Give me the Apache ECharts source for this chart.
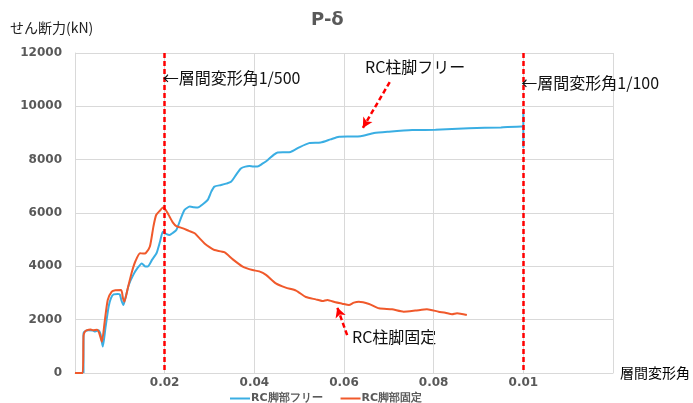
<!DOCTYPE html>
<html>
<head>
<meta charset="utf-8">
<script src="https://cdn.jsdelivr.net/npm/echarts@6/dist/echarts.min.js"></script>
<style>html,body{margin:0;padding:0;background:#fff;}#c{width:693px;height:403px;}</style>
</head>
<body>
<div id="c"></div>
<script>
// ---- data ----
const freeDrift = [0.0019,0.0019,0.0024,0.003,0.004,0.0045,0.0052,0.0057,0.0062,0.0068,0.0075,0.008,0.0086,0.0095,0.01,0.0104,0.0108,0.0113,0.012,0.013,0.014,0.0149,0.0156,0.0162,0.0172,0.0182,0.019,0.0196,0.0203,0.0211,0.0218,0.0226,0.0235,0.0244,0.0256,0.0265,0.0274,0.0285,0.0296,0.0304,0.0311,0.0326,0.0337,0.0348,0.036,0.037,0.038,0.0389,0.0398,0.0407,0.0418,0.043,0.0443,0.0452,0.0468,0.0481,0.05,0.0522,0.0548,0.057,0.0589,0.0613,0.0637,0.0667,0.07,0.0752,0.0804,0.0878,0.095,0.0996,0.1,0.1,0.1];
const freeShear = [0,1500,1580,1600,1590,1560,1600,1450,990,1700,2490,2800,2950,2960,2940,2700,2550,2850,3300,3680,3950,4110,4000,3990,4250,4500,4950,5300,5220,5175,5250,5360,5750,6110,6240,6220,6210,6330,6490,6800,6990,7050,7100,7170,7450,7670,7740,7760,7740,7740,7850,7990,8180,8270,8280,8290,8460,8620,8640,8760,8860,8870,8880,9000,9050,9110,9120,9175,9210,9240,9240,9800,8450];
const fixedDrift = [0,0.0017,0.0019,0.0022,0.0027,0.0035,0.004,0.0049,0.0054,0.006,0.0066,0.0073,0.0082,0.009,0.0103,0.0107,0.011,0.0118,0.0127,0.0135,0.0145,0.0152,0.0158,0.0167,0.0175,0.0181,0.019,0.0196,0.0203,0.0211,0.0218,0.0226,0.0241,0.0254,0.0267,0.0278,0.0289,0.03,0.0311,0.0333,0.0352,0.0374,0.0396,0.0411,0.0426,0.0448,0.047,0.0493,0.0515,0.0537,0.0552,0.0563,0.0581,0.0596,0.0611,0.0622,0.0633,0.0656,0.0678,0.0707,0.0733,0.0759,0.0785,0.0811,0.0826,0.0841,0.0852,0.0874];
const fixedShear = [0,0,1400,1550,1610,1630,1600,1620,1500,1175,1900,2740,3050,3100,3110,2800,2675,3200,3800,4200,4490,4480,4500,4740,5500,5925,6100,6210,6100,5860,5650,5510,5425,5330,5240,5050,4860,4720,4610,4530,4260,3990,3860,3810,3680,3360,3200,3090,2850,2760,2700,2740,2650,2600,2550,2640,2675,2590,2425,2390,2300,2340,2390,2300,2260,2200,2240,2175];
const xTickLabels = ['', '0.02', '0.04', '0.06', '0.08', '0.01', ''];
const seriesNames = ['RC脚部フリー', 'RC脚部固定'];
const limitDrifts = [0.02, 0.1];
const limitTexts = ['←層間変形角1/500', '←層間変形角1/100'];
const freeArrow = [[0.0702, 10910], [0.0642, 9190]];
const fixedArrow = [[0.0607, 1420], [0.0585, 2460]];

const zip = (a, b) => a.map((v, i) => [v, b[i]]);
const chart = echarts.init(document.getElementById('c'));
const gray = '#595959';
const dash = [5, 3];
const arrowLine = (pts) => ({
  silent: true, symbol: ['none', 'arrow'], symbolSize: [8, 10],
  lineStyle: { color: '#ff0000', type: dash, width: 2.5 },
  label: { show: false },
  data: [[{ coord: pts[0] }, { coord: pts[1] }]]
});
chart.setOption({
  animation: false,
  title: { text: 'P-δ', left: 306, top: 6, textStyle: { fontFamily: 'DejaVu Sans', fontWeight: 'bold', fontSize: 18, color: gray } },
  grid: { left: 75, right: 78, top: 53, bottom: 30 },
  legend: {
    left: 225, top: 388, icon: 'rect', itemWidth: 20, itemHeight: 2, itemGap: 18,
    textStyle: { fontFamily: 'DejaVu Sans', fontWeight: 'bold', fontSize: 11, color: gray, padding: [0, 0, 0, -4] },
    data: seriesNames
  },
  xAxis: {
    type: 'value', min: 0, max: 0.12, interval: 0.02,
    name: '層間変形角', nameLocation: 'end', nameGap: 7,
    nameTextStyle: { fontFamily: 'Noto Sans CJK JP', fontSize: 14, color: '#000', verticalAlign: 'middle', align: 'left' },
    axisLine: { show: true, lineStyle: { color: '#d9d9d9' } },
    axisTick: { show: false },
    splitLine: { show: true, lineStyle: { color: '#d9d9d9' } },
    axisLabel: {
      fontFamily: 'DejaVu Sans', fontWeight: 'bold', fontSize: 12, color: gray, margin: 4, showMinLabel: true, showMaxLabel: true,
      formatter: v => xTickLabels[Math.round(v / 0.02)] || ''
    }
  },
  yAxis: {
    type: 'value', min: 0, max: 12000, interval: 2000,
    axisLine: { show: true, lineStyle: { color: '#d9d9d9' } },
    axisTick: { show: false },
    splitLine: { show: true, lineStyle: { color: '#d9d9d9' } },
    axisLabel: { fontFamily: 'DejaVu Sans', fontWeight: 'bold', fontSize: 12, color: gray, margin: 13, formatter: v => String(v) }
  },
  graphic: [
    { type: 'text', left: 10, top: 21, style: { text: 'せん断力(kN)', font: '14px "Noto Sans CJK JP"', fill: '#222' } },
    { type: 'text', left: 365, top: 59, style: { text: 'RC柱脚フリー', font: '16px "Noto Sans CJK JP"', fill: '#111' } },
    { type: 'text', left: 352, top: 329, style: { text: 'RC柱脚固定', font: '16px "Noto Sans CJK JP"', fill: '#111' } }
  ],
  series: [
    {
      name: seriesNames[0], type: 'line', showSymbol: false, symbol: 'none', smooth: 0.2,
      data: zip(freeDrift, freeShear), color: '#3aaee3', lineStyle: { width: 2, color: '#3aaee3' },
      markLine: arrowLine(freeArrow)
    },
    {
      name: seriesNames[1], type: 'line', showSymbol: false, symbol: 'none', smooth: 0.2,
      data: zip(fixedDrift, fixedShear), color: '#f0592b', lineStyle: { width: 2, color: '#f0592b' },
      markLine: arrowLine(fixedArrow)
    },
    {
      type: 'line', data: [], z: 5,
      markLine: {
        silent: true, symbol: ['none', 'none'],
        lineStyle: { color: '#ff0000', type: dash, width: 2.5 },
        data: limitDrifts.map((d, i) => [
          { coord: [d, 12000], label: { show: true, position: 'start', formatter: limitTexts[i], align: 'left', verticalAlign: 'top', offset: [-2, i === 0 ? 22 : 27], fontFamily: 'Noto Sans CJK JP', fontSize: 16, color: '#111' } },
          { coord: [d, 0] }
        ])
      }
    }
  ]
});
</script>
</body>
</html>
